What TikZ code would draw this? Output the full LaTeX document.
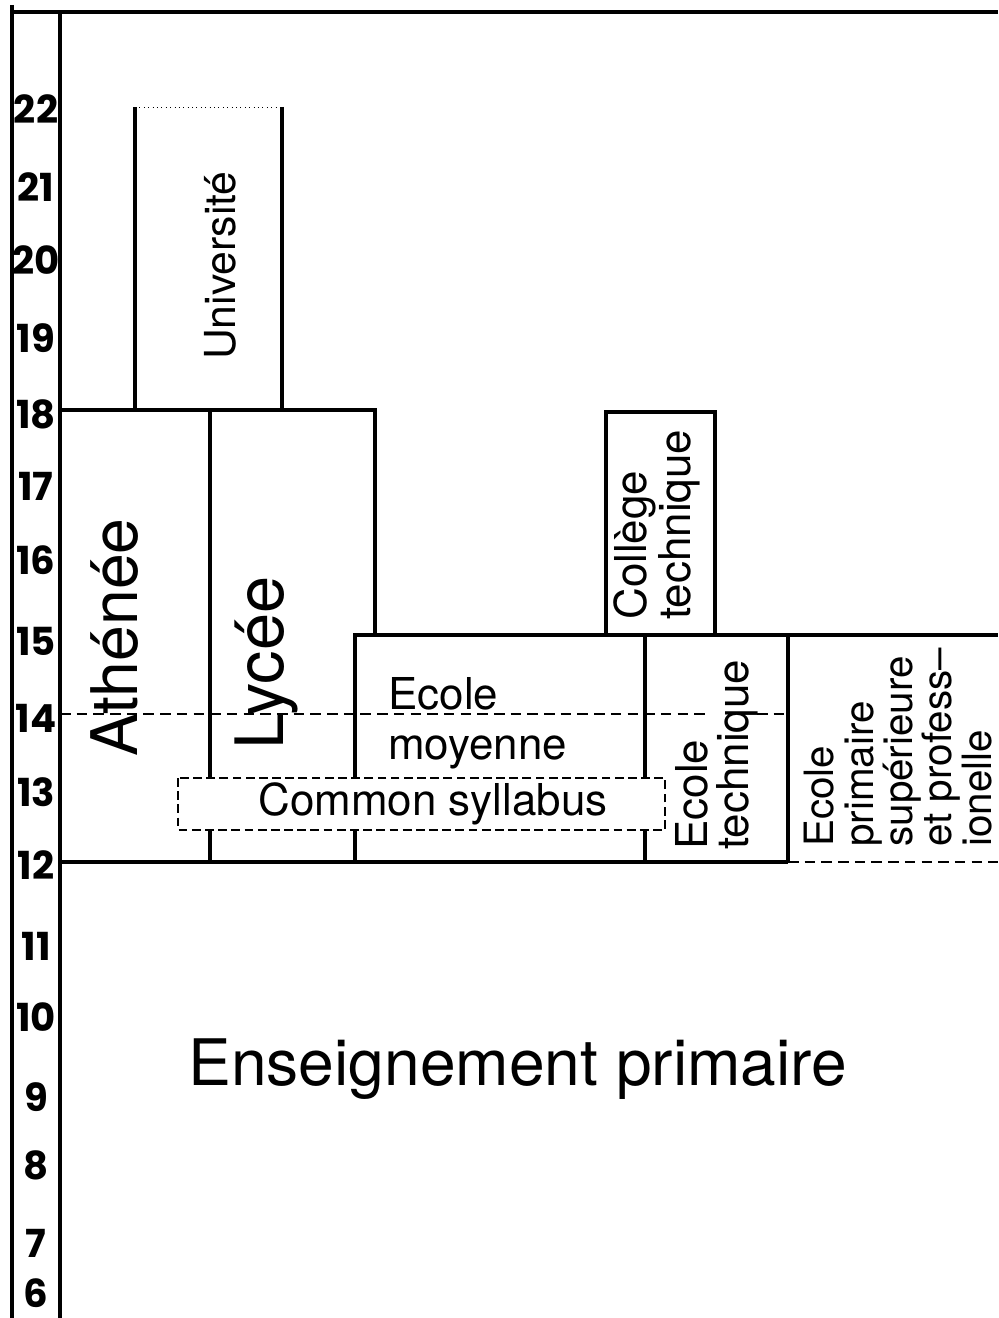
\documentclass[tikz,border=0pt]{standalone}
\usepackage{fontspec}
\setmainfont{TeX Gyre Heros}
\newfontfamily\agefont{Poppins}

\begin{document}
\begin{tikzpicture}[x=0.02cm,y=-0.02cm]
 \tikzstyle{trait}=[line width=1.9pt]
 \tikzstyle{axe}=[line width=2.3pt]
 \tikzstyle{pointille}=[line width=1.3pt,dash pattern=on 6pt off 3.5pt]
 \tikzstyle{cadre}=[line width=1.1pt,dash pattern=on 5pt off 2.5pt]
 \tikzstyle{age}=[font=\agefont\bfseries\fontsize{22}{22}\selectfont,inner sep=0pt]
 \tikzstyle{vert}=[rotate=90,inner sep=0pt,align=left]
 \useasboundingbox (0,0) rectangle (998,1318);
 \draw[axe] (12,5)--(12,1318);
 \draw[axe] (60,12)--(60,1318);
 \draw[axe] (12,12)--(998,12);
 \foreach \a/\y in {22/109,21/187,20/260,19/338,18/414,17/486,16/560,15/641,14/718,13/792,12/865,11/946,10/1017,9/1097,8/1165,7/1243,6/1293}
   \node[age] (a\a) at (36,\y) {\a};
 \draw[trait] (135,410)--(135,107);
 \draw[trait] (282,107)--(282,410);
 \draw[line width=0.5pt,dotted] (135,107)--(282,107);
 \draw[trait] (60,410)--(375,410)--(375,635);
 \draw[trait] (210,410)--(210,778);
 \draw[trait] (210,830)--(210,862);
 \draw[trait] (355,778)--(355,635)--(998,635);
 \draw[trait] (355,830)--(355,862);
 \draw[trait] (606,635)--(606,412)--(715,412)--(715,635);
 \draw[trait] (645,635)--(645,778);
 \draw[trait] (645,830)--(645,862);
 \draw[trait] (788,635)--(788,862);
 \draw[trait] (60,862)--(788,862);
 \draw[pointille] (788,862)--(998,862);
 \draw[pointille] (60,714)--(710,714);
 \draw[pointille] (757,714)--(788,714);
 \draw[cadre] (178,778) rectangle (665,830);
 \node[vert,anchor=base west,font=\fontsize{24.3}{24}\selectfont] (univ) at (235,360) {Université};
 \node[vert,anchor=base west,font=\fontsize{36.6}{36}\selectfont] (athenee) at (137,757) {Athénée};
 \node[vert,anchor=base west,font=\fontsize{38}{38}\selectfont] (lycee) at (283,750) {Lycée};
 \node[vert,anchor=west,font=\fontsize{25}{22.5}\selectfont] (college) at (657,620) {Collège\\technique};
 \node[anchor=north west,align=left,inner sep=0pt,font=\fontsize{25}{28.5}\selectfont] (ecmoy) at (388,677) {Ecole\\moyenne};
 \node[font=\fontsize{25}{25}\selectfont] (syll) at (433,804) {Common syllabus};
 \node[vert,anchor=west,font=\fontsize{25}{23.3}\selectfont] (ectech) at (717,850) {Ecole\\technique};
 \node[vert,anchor=west,font=\fontsize{23}{22.4}\selectfont] (epsp) at (898,847) {Ecole\\primaire\\supérieure\\et profess–\\ionelle};
 \node[anchor=base west,inner sep=0pt,font=\fontsize{36.5}{40}\selectfont] (primaire) at (188,1085) {Enseignement primaire};
\end{tikzpicture}
\end{document}
